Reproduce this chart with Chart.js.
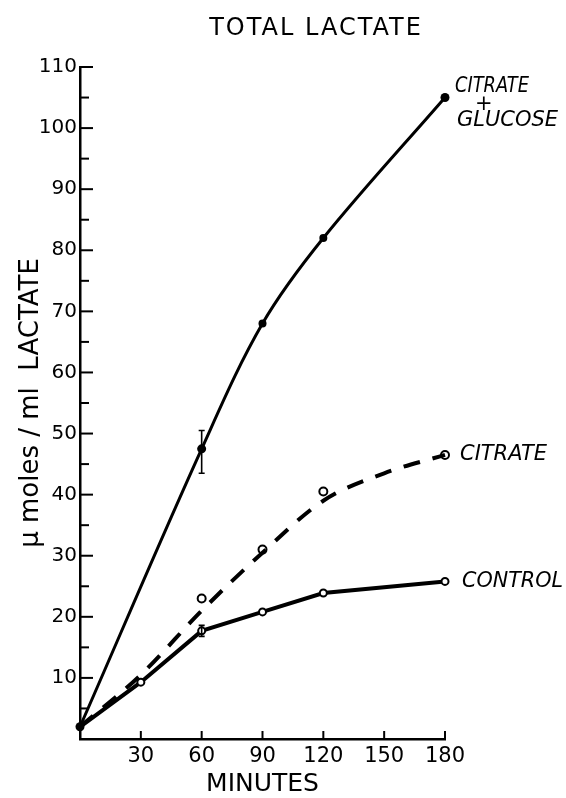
<!DOCTYPE html>
<html>
<head>
<meta charset="utf-8">
<script src="https://cdn.jsdelivr.net/npm/chart.js@4/dist/chart.umd.min.js"></script>
<style>
  html, body { margin: 0; padding: 0; background: #fff; }
</style>
</head>
<body>
<canvas id="chart" width="566" height="798"></canvas>
<script>
// values (minutes vs umoles/ml lactate)
const glucoseMinutes = [0, 60, 90, 120, 180];
const citrateGlucose = [2, 47.5, 68, 82, 105];

const citrateMinutes = [60, 90, 120, 180];
const citrate = [23, 31, 40.5, 46.5];
// the dashed fitted curve drawn through the citrate points
const citrateCurveMinutes = [0, 30, 60, 90, 120, 150, 180];
const citrateCurve = [2, 10.5, 21, 30.5, 39, 43.5, 46.5];

const controlMinutes = [0, 30, 60, 90, 120, 180];
const control = [2, 9.3, 17.7, 20.8, 23.9, 25.8];

const errMinutes = [60, 60];
const errLow = [43.5, 16.8];
const errHigh = [50.5, 18.6];

const xTicks = [30, 60, 90, 120, 150, 180];
const yTicks = [10, 20, 30, 40, 50, 60, 70, 80, 90, 100, 110];
const yMinorTicks = [5, 15, 25, 35, 45, 55, 65, 75, 85, 95, 105];

const FONT = "'DejaVu Sans', sans-serif";

const toPoints = (xs, ys) => xs.map((x, i) => ({ x: x, y: ys[i] }));

const figurePlugin = {
  id: 'figure',
  afterDatasetsDraw(chart) {
    const { ctx, scales: { x, y } } = chart;
    ctx.save();
    ctx.strokeStyle = '#000';

    // error bars
    ctx.lineWidth = 1.6;
    errMinutes.forEach((m, i) => {
      const px = x.getPixelForValue(m);
      const top = y.getPixelForValue(errHigh[i]);
      const bot = y.getPixelForValue(errLow[i]);
      ctx.beginPath();
      ctx.moveTo(px, top); ctx.lineTo(px, bot);
      ctx.moveTo(px - 3, top); ctx.lineTo(px + 3, top);
      ctx.moveTo(px - 3, bot); ctx.lineTo(px + 3, bot);
      ctx.stroke();
    });

    // ticks pointing into the plot
    ctx.lineWidth = 2;
    const left = x.getPixelForValue(0);
    const bottom = y.getPixelForValue(0);
    yTicks.forEach(v => {
      const py = y.getPixelForValue(v);
      ctx.beginPath(); ctx.moveTo(left, py); ctx.lineTo(left + 13, py); ctx.stroke();
    });
    yMinorTicks.forEach(v => {
      const py = y.getPixelForValue(v);
      ctx.beginPath(); ctx.moveTo(left, py); ctx.lineTo(left + 9, py); ctx.stroke();
    });
    xTicks.forEach(v => {
      const px = x.getPixelForValue(v);
      ctx.beginPath(); ctx.moveTo(px, bottom); ctx.lineTo(px, bottom - 8); ctx.stroke();
    });
    ctx.restore();
  },
  afterDraw(chart) {
    const { ctx, scales: { x, y } } = chart;
    ctx.save();
    ctx.fillStyle = '#000';
    ctx.textBaseline = 'middle';

    // title
    ctx.font = '24px ' + FONT;
    ctx.textAlign = 'center';
    ctx.letterSpacing = '2px';
    ctx.fillText('TOTAL LACTATE', 316, 29);
    ctx.letterSpacing = '0px';

    // series labels next to the last points
    const endX = x.getPixelForValue(180);
    ctx.font = 'italic 21px ' + FONT;
    ctx.textAlign = 'left';
    const topY = y.getPixelForValue(citrateGlucose[citrateGlucose.length - 1]);
    ctx.fillText('CITRATE', endX + 10, topY - 11, 74);
    ctx.fillText('+', endX + 30, topY + 7);
    ctx.fillText('GLUCOSE', endX + 12, topY + 23, 106);
    ctx.fillText('CITRATE', endX + 15, y.getPixelForValue(citrate[citrate.length - 1]), 87);
    ctx.fillText('CONTROL', endX + 17, y.getPixelForValue(control[control.length - 1]), 101);
    ctx.restore();
  }
};

new Chart(document.getElementById('chart'), {
  type: 'line',
  data: {
    datasets: [
      {
        label: 'Citrate + Glucose',
        data: toPoints(glucoseMinutes, citrateGlucose),
        borderColor: '#000',
        borderWidth: 3,
        tension: 0.35,
        pointRadius: [4.5, 4.5, 4, 4, 4.5],
        pointBackgroundColor: '#000',
        pointBorderWidth: 0,
        clip: false
      },
      {
        label: 'Citrate curve',
        data: toPoints(citrateCurveMinutes, citrateCurve),
        borderColor: '#000',
        borderWidth: 4,
        borderDash: [17, 13],
        cubicInterpolationMode: 'monotone',
        pointRadius: 0,
        clip: false
      },
      {
        label: 'Citrate',
        data: toPoints(citrateMinutes, citrate),
        showLine: false,
        pointRadius: 4,
        pointBackgroundColor: '#fff',
        pointBorderColor: '#000',
        pointBorderWidth: 2,
        clip: false
      },
      {
        label: 'Control',
        data: toPoints(controlMinutes, control),
        borderColor: '#000',
        borderWidth: 4,
        tension: 0,
        pointRadius: [0, 3.5, 3.5, 3.5, 3.5, 3.5],
        pointBackgroundColor: '#fff',
        pointBorderColor: '#000',
        pointBorderWidth: 2,
        clip: false
      }
    ]
  },
  options: {
    responsive: false,
    animation: false,
    layout: { padding: { top: 67, right: 121, left: 0, bottom: 0 } },
    plugins: {
      legend: { display: false },
      tooltip: { enabled: false }
    },
    scales: {
      x: {
        type: 'linear',
        min: 0,
        max: 180,
        afterFit: (scale) => { scale.height = 59; },
        grid: { display: false, drawTicks: false },
        border: { display: true, color: '#000', width: 2.5 },
        ticks: {
          stepSize: 30,
          padding: 5,
          color: '#000',
          font: { family: FONT, size: 21 },
          callback: (v) => (v === 0 ? '' : v)
        },
        title: {
          display: true,
          text: 'MINUTES',
          color: '#000',
          font: { family: FONT, size: 25, lineHeight: 1 },
          padding: { top: 0, bottom: 1 }
        }
      },
      y: {
        min: 0,
        max: 110,
        afterFit: (scale) => { scale.width = 80; },
        grid: { display: false, drawTicks: false },
        border: { display: true, color: '#000', width: 2.5 },
        ticks: {
          stepSize: 10,
          padding: 3,
          color: '#000',
          font: { family: FONT, size: 20 },
          callback: (v) => (v === 0 ? '' : v)
        },
        title: {
          display: true,
          text: 'μ moles / ml  LACTATE',
          color: '#000',
          font: { family: FONT, size: 26, lineHeight: 1.2 },
          padding: { top: 16, bottom: 0 }
        }
      }
    }
  },
  plugins: [figurePlugin]
});
</script>
</body>
</html>
